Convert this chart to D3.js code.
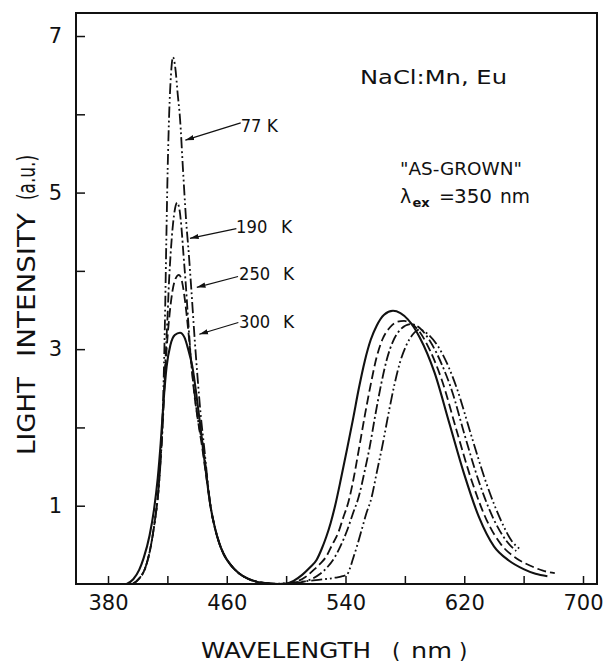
<!DOCTYPE html>
<html><head><meta charset="utf-8">
<script src="https://cdn.jsdelivr.net/npm/d3@7"></script>
<style>
body{margin:0;background:#fff}
svg{display:block}
text{font-family:"DejaVu Sans",sans-serif;fill:#111}
</style>
</head><body>
<svg id="c" width="605" height="662"></svg>
<script>
// ---- data ----
const xTickValues = [380, 420, 460, 500, 540, 580, 620, 660, 700];
const xTickLabels = [380, 460, 540, 620, 700];
const yTickValues = [1, 2, 3, 4, 5, 6, 7];
const yTickLabels = [1, 3, 5, 7];
const seriesTemps = ["77", "190", "250", "300"];

const k300 = [[392.6,0],[397,0.06],[401,0.18],[404,0.33],[408,0.62],[411,0.95],[413.5,1.35],[415.5,1.8],[417.3,2.3],[419.5,2.78],[422,3.05],[425,3.18],[428.5,3.21],[431.5,3.15],[434,3.0],[436.8,2.78],[440,2.35],[442,2.05],[444,1.73],[446.5,1.35],[449,1.0],[452,0.72],[455,0.52],[458,0.38],[462,0.26],[468,0.14],[474,0.07],[480,0.03],[487,0.01],[495,0.0],[500,0.005],[505,0.04],[511,0.12],[516,0.21],[520.6,0.31],[524,0.45],[527,0.6],[530,0.78],[533,1.0],[537,1.35],[541,1.72],[545,2.1],[549,2.5],[553,2.85],[557,3.12],[561,3.3],[566,3.44],[572,3.49],[577,3.46],[582,3.38],[590,3.15],[600,2.7],[610,2.05],[620,1.4],[630,0.85],[640,0.48],[650,0.3],[660,0.19],[668,0.13],[676,0.1]];

const k250 = [[396.5,0],[401,0.07],[405,0.2],[408.5,0.45],[411.5,0.8],[414,1.2],[416,1.8],[417.8,2.45],[419.5,3.0],[421.5,3.45],[423.5,3.75],[425.5,3.9],[427.8,3.95],[430,3.85],[432,3.6],[434,3.25],[436,2.85],[438,2.45],[440.5,2.1],[443,1.8],[446,1.4],[449,1.0],[452,0.72],[455,0.52],[458,0.38],[462,0.26],[468,0.14],[474,0.07],[480,0.03],[487,0.01],[495,0],[502,0.005],[507,0.03],[513,0.09],[518,0.17],[523,0.26],[527,0.35],[531,0.5],[535,0.65],[538.5,0.85],[542,1.05],[546,1.4],[549,1.72],[553,2.15],[557,2.55],[561,2.9],[565,3.13],[570,3.28],[575,3.35],[579.5,3.36],[584,3.33],[590,3.22],[597,2.98],[605,2.6],[615,1.95],[625,1.32],[635,0.82],[645,0.5],[655,0.33],[665,0.23],[673,0.17],[681,0.14]];

const k190 = [[396.5,0],[401,0.07],[405,0.2],[408.5,0.45],[411.5,0.8],[414,1.2],[415.5,1.6],[416.8,2.0],[418.3,2.7],[420,3.37],[421.2,3.9],[422.2,4.22],[423.8,4.6],[425.2,4.8],[426.6,4.87],[428,4.8],[429.5,4.55],[430.8,4.22],[432.5,3.8],[434,3.37],[436,2.85],[438.5,2.4],[441,2.05],[444.5,1.71],[447,1.3],[449,1.0],[452,0.72],[455,0.52],[458,0.38],[462,0.26],[468,0.14],[474,0.07],[480,0.03],[487,0.01],[495,0],[505,0.005],[512,0.03],[518,0.07],[523,0.13],[528,0.22],[533,0.35],[537,0.5],[541,0.68],[545,0.9],[549,1.12],[553,1.45],[556,1.72],[560,2.15],[564,2.55],[568,2.88],[572,3.1],[577,3.25],[584,3.32],[590,3.27],[597,3.1],[605,2.8],[612,2.45],[620,1.92],[630,1.3],[640,0.82],[648,0.56],[655,0.42]];

const k77 = [[397,0],[401,0.07],[405,0.2],[408.5,0.45],[411.5,0.8],[414,1.2],[415.8,1.7],[417.2,2.4],[418.3,3.3],[419.3,4.4],[420.2,5.3],[421.2,6.0],[422.4,6.5],[423.8,6.73],[425.3,6.6],[427,6.25],[428.5,5.95],[430.5,5.3],[432.6,4.65],[434.5,4.2],[436,3.8],[438.5,3.1],[440.5,2.6],[442.5,2.15],[445,1.71],[447,1.33],[449,1.0],[452,0.72],[455,0.52],[458,0.38],[462,0.26],[468,0.14],[474,0.07],[480,0.03],[487,0.01],[495,0.005],[505,0.02],[515,0.04],[525,0.06],[533,0.08],[538,0.1],[541,0.12],[543,0.2],[545,0.32],[548,0.5],[551,0.7],[554,0.9],[557.5,1.1],[561,1.42],[565,1.78],[569,2.18],[573,2.55],[577,2.85],[581,3.05],[585,3.18],[589.8,3.25],[595,3.2],[605,2.95],[615,2.5],[625,1.88],[635,1.28],[645,0.8],[652,0.55],[658,0.44]];

// label anchor (text start) and arrow from/to, in data units [wavelength, intensity]
const labelAt   = [[469.4,5.77],[466.3,4.48],[468.3,3.883],[468.3,3.27]];
const arrowFrom = [[469.4,5.89],[466.5,4.54],[467.6,3.928],[467.8,3.34]];
const arrowTo   = [[432.1,5.67],[435.2,4.416],[439.8,3.79],[441.5,3.19]];

// ---- layout ----
const W = 605, H = 662;
const m = {left: 76, right: 8, top: 13, bottom: 78};
const svg = d3.select("#c");
const x = d3.scaleLinear().domain([358.44, 709.43]).range([m.left, W - m.right]);
const y = d3.scaleLinear().domain([0, 7.294]).range([H - m.bottom, m.top]);

svg.append("rect").attr("width", W).attr("height", H).attr("fill", "#fff");

const defs = svg.append("defs");
defs.append("marker").attr("id", "ah").attr("viewBox", "0 -4 10 8")
  .attr("refX", 10).attr("refY", 0).attr("markerWidth", 9).attr("markerHeight", 7)
  .attr("markerUnits", "userSpaceOnUse").attr("orient", "auto")
  .append("path").attr("d", "M0,-3L10,0L0,3Z").attr("fill", "#111");

// axes
const xAxis = d3.axisBottom(x).tickValues(xTickValues).tickSize(-8).tickPadding(11)
  .tickFormat(d => xTickLabels.includes(d) ? String(d) : "");
const gx = svg.append("g").attr("transform", `translate(0,${H - m.bottom})`).call(xAxis);
gx.select(".domain").remove();
gx.selectAll("line").attr("stroke", "#111").attr("stroke-width", 1.5);
gx.selectAll("text").attr("font-size", 21).attr("fill", "#111");

const yAxis = d3.axisLeft(y).tickValues(yTickValues).tickSize(-9).tickPadding(14)
  .tickFormat(d => yTickLabels.includes(d) ? String(d) : "");
const gy = svg.append("g").attr("transform", `translate(${m.left},0)`).call(yAxis);
gy.select(".domain").remove();
gy.selectAll("line").attr("stroke", "#111").attr("stroke-width", 1.5);
gy.selectAll("text").attr("font-size", 21).attr("fill", "#111");

// frame
svg.append("rect").attr("x", m.left).attr("y", m.top)
  .attr("width", W - m.left - m.right).attr("height", H - m.top - m.bottom)
  .attr("fill", "none").attr("stroke", "#111").attr("stroke-width", 2);

// curves
const line = d3.line().x(d => x(d[0])).y(d => y(d[1])).curve(d3.curveMonotoneX);
const series = [
  {data: k77,  dash: "11,3,1.8,3,1.8,3", w: 1.8},
  {data: k190, dash: "10,3,2,3", w: 1.8},
  {data: k250, dash: "9,4", w: 1.8},
  {data: k300, dash: null, w: 2.1}
];
svg.append("g").selectAll("path").data(series).join("path")
  .attr("d", s => line(s.data))
  .attr("fill", "none").attr("stroke", "#111")
  .attr("stroke-width", s => s.w)
  .attr("stroke-dasharray", s => s.dash)
  .attr("stroke-linejoin", "round");

// series labels with arrows
const kGap = [26, 45, 44, 44];
seriesTemps.forEach((t, i) => {
  svg.append("line")
    .attr("x1", x(arrowFrom[i][0])).attr("y1", y(arrowFrom[i][1]))
    .attr("x2", x(arrowTo[i][0])).attr("y2", y(arrowTo[i][1]))
    .attr("stroke", "#111").attr("stroke-width", 1.2).attr("marker-end", "url(#ah)");
  const tx = x(labelAt[i][0]), ty = y(labelAt[i][1]);
  const g = svg.append("text").attr("y", ty).attr("font-size", 17);
  g.append("tspan").attr("x", tx).attr("textLength", t.length * 10.4)
    .attr("lengthAdjust", "spacingAndGlyphs").text(t);
  g.append("tspan").attr("x", tx + kGap[i]).text("K");
});

// annotations
svg.append("text").attr("x", 360).attr("y", 83.5).attr("font-size", 19)
  .attr("textLength", 147).attr("lengthAdjust", "spacingAndGlyphs").text("NaCl:Mn, Eu");
svg.append("text").attr("x", 400).attr("y", 175).attr("font-size", 18)
  .attr("textLength", 122).attr("lengthAdjust", "spacingAndGlyphs").text("\"AS-GROWN\"");
const lt = svg.append("text").attr("y", 203.3).attr("font-size", 19);
lt.append("tspan").attr("x", 400).text("λ");
lt.append("tspan").attr("x", 412.5).attr("font-size", 13).attr("dy", 4).attr("font-weight", "bold").text("ex");
lt.append("tspan").attr("x", 439).attr("dy", -4).text("=");
lt.append("tspan").attr("x", 454).attr("textLength", 38).attr("lengthAdjust", "spacingAndGlyphs").text("350");
lt.append("tspan").attr("x", 500).attr("textLength", 30).attr("lengthAdjust", "spacingAndGlyphs").text("nm");

// axis titles
const xt = svg.append("text").attr("y", 658).attr("font-size", 21.5);
xt.append("tspan").attr("x", 201).attr("textLength", 170).attr("lengthAdjust", "spacingAndGlyphs").text("WAVELENGTH");
xt.append("tspan").attr("x", 392).text("(");
xt.append("tspan").attr("x", 411).attr("textLength", 41).attr("lengthAdjust", "spacingAndGlyphs").text("nm");
xt.append("tspan").attr("x", 459).text(")");

const yt = svg.append("text").attr("transform", "translate(35,455) rotate(-90)").attr("font-size", 24);
yt.append("tspan").attr("x", 0).attr("textLength", 78).attr("lengthAdjust", "spacingAndGlyphs").text("LIGHT");
yt.append("tspan").attr("x", 98).attr("textLength", 144).attr("lengthAdjust", "spacingAndGlyphs").text("INTENSITY");
yt.append("tspan").attr("x", 255).attr("textLength", 45).attr("lengthAdjust", "spacingAndGlyphs").text("(a.u.)");
</script>
</body></html>
